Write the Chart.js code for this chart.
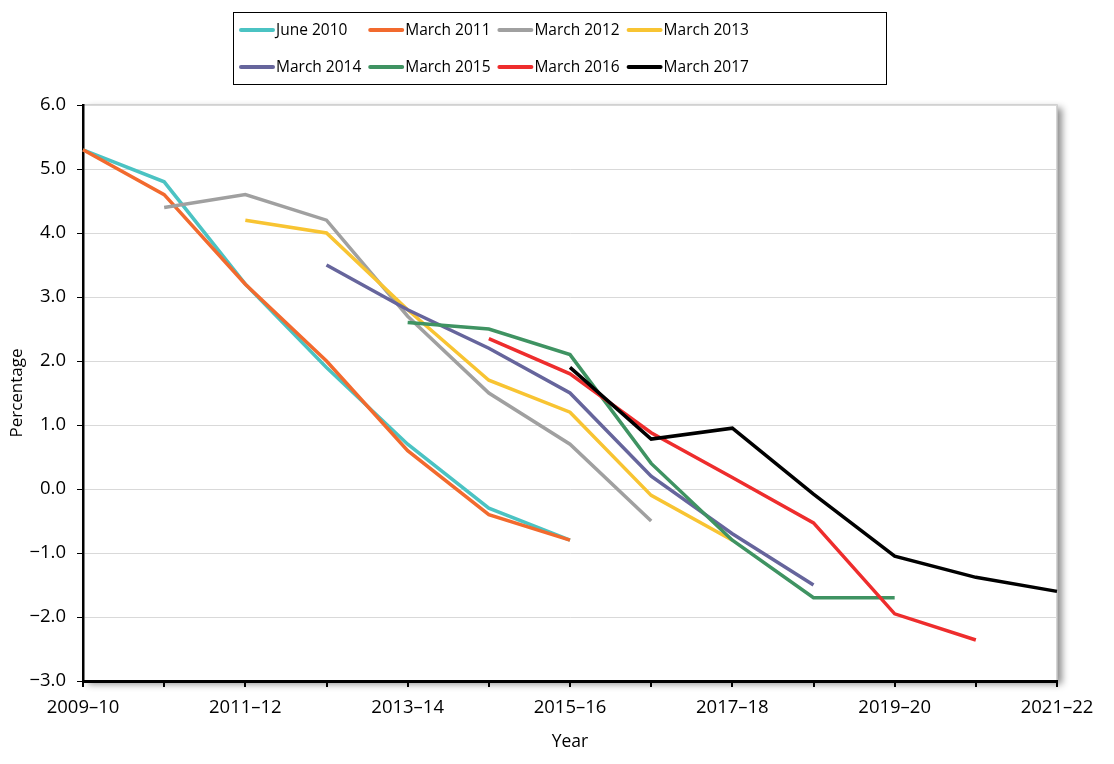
<!DOCTYPE html>
<html>
<head>
<meta charset="utf-8">
<script src="https://cdn.jsdelivr.net/npm/chart.js@4.4.1/dist/chart.umd.min.js"></script>
<style>
  html, body { margin: 0; padding: 0; background: #fff; }
  #wrap { width: 1114px; height: 764px; position: relative; }
</style>
</head>
<body>
<div id="wrap"><canvas id="canvas1"></canvas></div>
<script>
// financial years on the x axis
const years = ["2009–10", "2010–11", "2011–12", "2012–13", "2013–14", "2014–15", "2015–16",
               "2016–17", "2017–18", "2018–19", "2019–20", "2020–21", "2021–22"];
const yTicks = [6, 5, 4, 3, 2, 1, 0, -1, -2, -3];

// one forecast per vintage (null = no value for that year)
const june2010  = [5.3, 4.8, 3.2, 1.9, 0.7, -0.3, -0.8, null, null, null, null, null, null];
const march2011 = [5.3, 4.6, 3.2, 2.0, 0.6, -0.4, -0.8, null, null, null, null, null, null];
const march2012 = [null, 4.4, 4.6, 4.2, 2.7, 1.5, 0.7, -0.5, null, null, null, null, null];
const march2013 = [null, null, 4.2, 4.0, 2.8, 1.7, 1.2, -0.1, -0.8, null, null, null, null];
const march2014 = [null, null, null, 3.5, 2.8, 2.2, 1.5, 0.2, -0.7, -1.5, null, null, null];
const march2015 = [null, null, null, null, 2.6, 2.5, 2.1, 0.4, -0.8, -1.7, -1.7, null, null];
const march2016 = [null, null, null, null, null, 2.35, 1.8, 0.88, 0.18, -0.53, -1.95, -2.36, null];
const march2017 = [null, null, null, null, null, null, 1.9, 0.78, 0.95, -0.08, -1.05, -1.38, -1.6];

const seriesNames = ["June 2010", "March 2011", "March 2012", "March 2013",
                     "March 2014", "March 2015", "March 2016", "March 2017"];
const seriesData = [june2010, march2011, march2012, march2013, march2014, march2015, march2016, march2017];
const seriesColors = ["#4BC3C3", "#F26A2E", "#A0A0A0", "#F8C432", "#66659C", "#3F9362", "#EE2D2D", "#000000"];

const FONT = "'Open Sans', 'Noto Sans', sans-serif";

function fmt(v) {
    return v.toFixed(1).replace('-', '\u2212');
}

// plot box with shadow and grey top/right edge
const plotBox = {
    id: 'plotBox',
    beforeDraw(chart) {
        const a = chart.chartArea, ctx = chart.ctx;
        ctx.save();
        ctx.shadowColor = 'rgba(0,0,0,0.45)';
        ctx.shadowBlur = 7;
        ctx.shadowOffsetX = 5;
        ctx.shadowOffsetY = 3;
        ctx.fillStyle = '#fff';
        ctx.fillRect(a.left, a.top, a.right - a.left, a.bottom - a.top);
        ctx.restore();
        ctx.save();
        ctx.strokeStyle = '#c8c8c8';
        ctx.lineWidth = 1.5;
        ctx.beginPath();
        ctx.moveTo(a.left, a.top);
        ctx.lineTo(a.right, a.top);
        ctx.lineTo(a.right, a.bottom);
        ctx.stroke();
        ctx.restore();
    }
};

// legend in a box, 2 rows of 4
const boxLegend = {
    id: 'boxLegend',
    afterDraw(chart) {
        const ctx = chart.ctx;
        ctx.save();
        ctx.strokeStyle = '#000';
        ctx.lineWidth = 1;
        ctx.strokeRect(233.5, 12.5, 653, 72);
        ctx.font = "15.5px " + FONT;
        ctx.textBaseline = 'middle';
        ctx.fillStyle = '#000';
        chart.data.datasets.forEach(function (ds, i) {
            const col = i % 4, row = Math.floor(i / 4);
            const x = 241 + col * 129.2;
            const y = 30 + row * 37;
            ctx.strokeStyle = ds.borderColor;
            ctx.lineWidth = 4;
            ctx.lineCap = 'round';
            ctx.beginPath();
            ctx.moveTo(x, y);
            ctx.lineTo(x + 32, y);
            ctx.stroke();
            ctx.fillText(ds.label, x + 35, y + 1);
        });
        ctx.restore();
    }
};

const datasets = seriesNames.map(function (name, i) {
    return {
        label: name,
        data: seriesData[i],
        borderColor: seriesColors[i],
        backgroundColor: seriesColors[i],
        borderWidth: 3.5,
        pointRadius: 0,
        tension: 0,
        spanGaps: false,
        order: seriesNames.length - i
    };
});

const config = {
    type: 'line',
    data: { labels: years, datasets: datasets },
    plugins: [plotBox, boxLegend],
    options: {
        responsive: true,
        maintainAspectRatio: false,
        animation: false,
        layout: { padding: { top: 105, right: 57, left: 0, bottom: 0 } },
        plugins: {
            legend: { display: false },
            tooltip: { enabled: false }
        },
        scales: {
            x: {
                offset: false,
                afterFit: function (s) { s.height = 83; },
                grid: { drawOnChartArea: false, tickColor: '#000', tickLength: 6, lineWidth: 2 },
                border: { color: '#000', width: 3 },
                ticks: {
                    autoSkip: false, maxRotation: 0, padding: 10,
                    color: '#000', font: { family: FONT, size: 18.5 },
                    callback: function (v, i) { return i % 2 === 0 ? years[i] : ''; }
                },
                title: {
                    display: true, text: 'Year', color: '#000',
                    font: { family: FONT, size: 17.5 }, padding: { top: 0, bottom: 11 }
                }
            },
            y: {
                min: -3, max: 6,
                afterFit: function (s) { s.width = 83; },
                afterBuildTicks: function (s) { s.ticks = yTicks.map(v => ({ value: v })); },
                grid: { color: '#d9d9d9', lineWidth: 1, tickColor: '#000', tickLength: 6 },
                border: { color: '#000', width: 2.5 },
                ticks: {
                    padding: 11, color: '#000', font: { family: FONT, size: 18.5 },
                    callback: function (v) { return fmt(v); }
                },
                title: {
                    display: true, text: 'Percentage', color: '#000',
                    font: { family: FONT, size: 17 }, padding: { top: 7, bottom: 0 }
                }
            }
        }
    }
};

const chart = new Chart(document.getElementById('canvas1'), config);
window.addEventListener('resize', function () { chart.resize() })
</script>
</body>
</html>
